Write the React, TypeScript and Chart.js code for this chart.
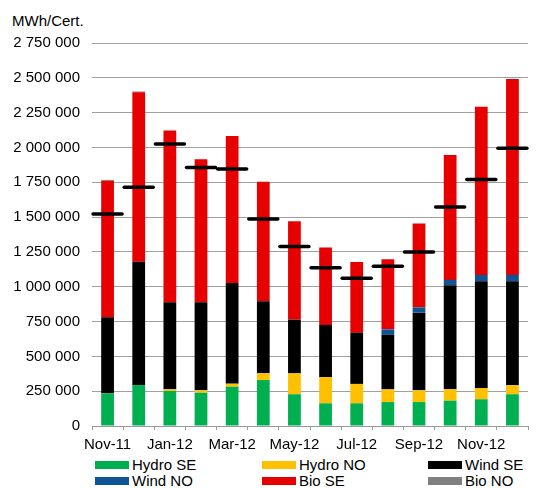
import React, { useEffect, useRef } from 'react';
import { Chart, registerables } from 'chart.js';
Chart.register(...registerables);

const months = ['Nov-11', 'Dec-11', 'Jan-12', 'Feb-12', 'Mar-12', 'Apr-12', 'May-12', 'Jun-12', 'Jul-12', 'Aug-12', 'Sep-12', 'Oct-12', 'Nov-12', 'Dec-12'];
const hydroSE = [235000, 294000, 251000, 239000, 282000, 330000, 228000, 163000, 163000, 172000, 172000, 182000, 192000, 228000];
const hydroNO = [0, 0, 12000, 17000, 22000, 48000, 150000, 187000, 139000, 91000, 84000, 81000, 81000, 64000];
const windSE = [546000, 886000, 626000, 633000, 723000, 518000, 386000, 376000, 368000, 391000, 558000, 748000, 766000, 747000];
const windNO = [0, 0, 0, 0, 0, 0, 0, 0, 0, 40000, 38000, 38000, 46000, 46000];
const bioSE = [980000, 1216000, 1232000, 1027000, 1056000, 857000, 706000, 555000, 508000, 503000, 602000, 896000, 1207000, 1406000];
const bioNO = [6000, 6000, 0, 0, 0, 0, 0, 0, 0, 0, 0, 0, 0, 0];
const quota = [1523000, 1715000, 2024000, 1856000, 1846000, 1487000, 1288000, 1137000, 1061000, 1147000, 1250000, 1573000, 1770000, 1995000];
const yTicksMax = 2750000;
const yStep = 250000;

const seriesNames = ['Hydro SE', 'Hydro NO', 'Wind SE', 'Wind NO', 'Bio SE', 'Bio NO'];
const seriesColors = ['#00B050', '#FFC000', '#000000', '#0F5596', '#E60000', '#808080'];
const seriesData = [hydroSE, hydroNO, windSE, windNO, bioSE, bioNO];

const FONT = "'Liberation Sans', Arial, sans-serif";

export default function App() {
  const ref = useRef<HTMLCanvasElement | null>(null);
  useEffect(() => {
    document.body.style.margin = '0';
    const roundCap = {
      id: 'roundCap',
      beforeDatasetDraw(chart: any, args: any) {
        if (args.meta.type === 'line') chart.ctx.lineCap = 'round';
      },
      afterDatasetDraw(chart: any, args: any) {
        if (args.meta.type === 'line') chart.ctx.lineCap = 'butt';
      },
    };
    const chart = new Chart(ref.current!, {
      type: 'bar',
      data: {
        labels: months,
        datasets: [
          {
            type: 'line',
            label: 'Quota',
            data: quota,
            showLine: false,
            pointStyle: 'line',
            pointRadius: 14.5,
            pointHoverRadius: 14.5,
            borderColor: '#000',
            backgroundColor: '#000',
            borderWidth: 3.5,
            order: 0,
          } as any,
          ...seriesData.map((d, i) => ({
            label: seriesNames[i],
            data: d,
            backgroundColor: seriesColors[i],
            borderWidth: 0,
            stack: 's',
            order: 1,
            barPercentage: 0.41,
            categoryPercentage: 1,
          })),
        ],
      },
      options: {
        animation: false,
        responsive: false,
        maintainAspectRatio: false,
        layout: { padding: { top: 43, left: 0, right: 0, bottom: 0 } },
        plugins: { legend: { display: false }, tooltip: { enabled: false }, title: { display: false } },
        scales: {
          x: {
            stacked: true,
            offset: true,
            grid: { display: true, offset: true, drawOnChartArea: false, drawTicks: true, tickLength: 4, color: '#9a9a9a' },
            border: { display: true, color: '#9a9a9a' },
            ticks: {
              autoSkip: false,
              maxRotation: 0,
              padding: 6,
              color: '#000',
              font: { family: FONT, size: 15 },
              callback: (_v: any, i: number) => (i % 2 === 0 ? months[i] : ''),
            },
            afterFit: (s: any) => { s.height = 26; },
          },
          y: {
            stacked: true,
            min: 0,
            max: yTicksMax,
            ticks: {
              stepSize: yStep,
              padding: 12,
              color: '#000',
              font: { family: FONT, size: 15 },
              callback: (v: any) => Number(v).toLocaleString('en-US').replace(/,/g, ' '),
            },
            grid: { color: '#a0a0a0', drawTicks: false },
            border: { display: false },
            afterFit: (s: any) => { s.width = 92; },
          },
        },
      },
      plugins: [roundCap],
    } as any);
    return () => chart.destroy();
  }, []);

  const legendCols = [95, 262, 428];
  const legendRows = [465, 481];
  return (
    <div style={{ position: 'absolute', left: 0, top: 0, width: 546, height: 488, background: '#fff', fontFamily: FONT, overflow: 'hidden' }}>
      <div style={{ position: 'absolute', left: 12, top: 12, fontSize: 15, lineHeight: '18px', color: '#000' }}>MWh/Cert.</div>
      <canvas ref={ref} width={546} height={452} style={{ position: 'absolute', left: 0, top: 0, width: 546, height: 452 }} />
      {seriesNames.map((n, i) => {
        const col = i % 3;
        const row = Math.floor(i / 3);
        return (
          <div key={n} style={{ position: 'absolute', left: legendCols[col], top: legendRows[row] - 9, height: 18, display: 'flex', alignItems: 'center', whiteSpace: 'nowrap' }}>
            <span style={{ display: 'inline-block', width: 34, height: 8, background: seriesColors[i], marginRight: 3 }} />
            <span style={{ fontSize: 15, lineHeight: '18px', color: '#000' }}>{n}</span>
          </div>
        );
      })}
    </div>
  );
}
